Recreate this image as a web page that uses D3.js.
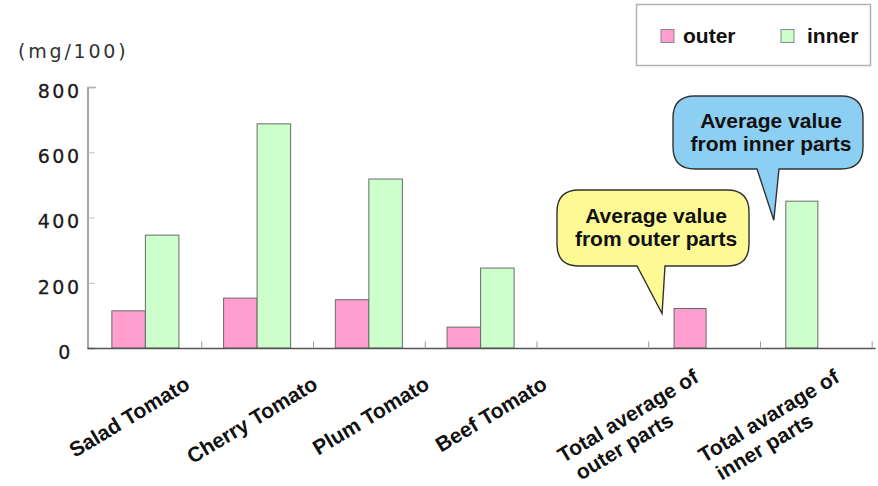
<!DOCTYPE html>
<html>
<head>
<meta charset="utf-8">
<script src="https://cdn.jsdelivr.net/npm/d3@7"></script>
<style>
  body { margin: 0; background: #fff; }
  svg { display: block; }
</style>
</head>
<body>
<svg id="chart" width="878" height="486"></svg>
<script>
// Categories along the x axis (the blank one leaves an empty slot before the averages)
const categories = [
  "Salad Tomato",
  "Cherry Tomato",
  "Plum Tomato",
  "Beef Tomato",
  "",
  "Total average of\nouter parts",
  "Total avarage of\ninner parts"
];
// mg per 100 g, outer and inner parts of each tomato
const outerValues = [114, 153, 148, 64, null, 121, null];
const innerValues = [346, 687, 518, 245, null, null, 450];
const seriesNames = ["outer", "inner"];
const yTicks = [0, 200, 400, 600, 800];
const unitLabel = "(mg/100)";
const calloutTexts = [
  ["Average value", "from outer parts"],
  ["Average value", "from inner parts"]
];

// ---- layout & styling ----
const W = 878, H = 486;
const svg = d3.select("#chart");
svg.append("rect").attr("width", W).attr("height", H).attr("fill", "#fff");

const colors = { outer: "#ff9fcf", inner: "#ccffcc" };
const boldFont = "'Liberation Sans', Arial, sans-serif";
const tickFont = "'DejaVu Sans', sans-serif";

const plotLeft = 89.5, plotRight = 871.7, y0px = 348, yTopPx = 87;

const x = d3.scaleBand().domain(d3.range(categories.length)).range([plotLeft, plotRight]);
const y = d3.scaleLinear().domain([0, 800]).range([y0px, yTopPx]);
const bw = x.bandwidth();
const barW = bw * 0.3;
const groupOff = bw * 0.2;

// y axis: ticks point inward, outer tick forms the small cap at the top;
// the zero label keeps a trailing space, as in a padded number format
const yAxis = d3.axisLeft(y).tickValues(yTicks).tickSize(-7).tickSizeOuter(-8).tickPadding(6)
  .tickFormat(d => d === 0 ? "0\u00a0" : String(d));
const gy = svg.append("g").attr("transform", "translate(87.5,0)").call(yAxis);
gy.select(".domain").attr("stroke", "#777").attr("stroke-width", 1.3);
gy.selectAll(".tick line").attr("stroke", "#bbb");
gy.selectAll(".tick text")
  .attr("font-family", tickFont).attr("font-size", 19).attr("fill", "#1a1a1a")
  .attr("stroke", "#1a1a1a").attr("stroke-width", 0.3)
  .attr("letter-spacing", 2.5).attr("dy", "0.55em");

// unit label
svg.append("text").attr("x", 18).attr("y", 58)
  .attr("font-family", tickFont).attr("font-size", 19).attr("fill", "#333")
  .attr("letter-spacing", 2.8).text(unitLabel);

// bars: present series packed from the left of each category group;
// a lone bar in a category sits slightly narrower and further in
const barData = [];
categories.forEach((c, i) => {
  const present = [];
  if (outerValues[i] != null) present.push({ s: "outer", v: outerValues[i] });
  if (innerValues[i] != null) present.push({ s: "inner", v: innerValues[i] });
  present.forEach((d, k) => barData.push({ i, k, s: d.s, v: d.v, single: present.length === 1 }));
});
const barX = d => x(d.i) + groupOff + d.k * barW + (d.single ? 3.5 : 0);
const barWidth = d => d.single ? barW - 1.5 : barW;
svg.append("g").selectAll("rect").data(barData).join("rect")
  .attr("x", barX)
  .attr("y", d => y(d.v))
  .attr("width", barWidth)
  .attr("height", d => y(0) - y(d.v))
  .attr("fill", d => colors[d.s])
  .attr("stroke", "#6a6a6a").attr("stroke-width", 1);

// x axis with short upward ticks between categories
const xb = d3.scaleLinear().domain([0, categories.length]).range([plotLeft, plotRight]);
const xAxis = d3.axisBottom(xb).tickValues(d3.range(1, categories.length + 1))
  .tickSize(-7).tickSizeOuter(0).tickFormat("");
const gx = svg.append("g").attr("transform", `translate(0,${y0px + 0.5})`).call(xAxis);
gx.select(".domain").attr("d", `M${plotLeft - 2},0H${plotRight + 4}`).attr("stroke", "#555").attr("stroke-width", 1.5);
gx.selectAll(".tick line").attr("stroke", "#999");

// rotated category labels, anchored at the end of the first line;
// a second line starts where the first one starts
const labelAngle = -31;
const labelShift = [46, 62, 62, 68, 0, -4, 25];
const labels = svg.append("g");
categories.forEach((c, i) => {
  if (!c) return;
  const lines = c.split("\n");
  const ex = x(i) + bw / 2 + labelShift[i];
  const ey = lines.length > 1 ? 381 : 388;
  const g = labels.append("g").attr("transform", `translate(${ex},${ey}) rotate(${labelAngle})`);
  const first = g.append("text").attr("x", 0).attr("y", 0)
    .attr("text-anchor", "end")
    .attr("font-family", boldFont).attr("font-weight", "bold").attr("font-size", 21)
    .attr("fill", "#111").text(lines[0]);
  const len = first.node().getComputedTextLength();
  lines.slice(1).forEach((t, j) => {
    g.append("text").attr("x", -len + 6).attr("y", (j + 1) * 24)
      .attr("text-anchor", "start")
      .attr("font-family", boldFont).attr("font-weight", "bold").attr("font-size", 21)
      .attr("fill", "#111").text(t);
  });
});

// legend
const lg = svg.append("g");
lg.append("rect").attr("x", 636.5).attr("y", 4.5).attr("width", 234).attr("height", 61)
  .attr("fill", "#fff").attr("stroke", "#b3b3b3").attr("stroke-width", 1.5);
const legendX = [661, 781];
seriesNames.forEach((s, k) => {
  lg.append("rect").attr("x", legendX[k]).attr("y", 29.5).attr("width", 13).attr("height", 13)
    .attr("fill", colors[s]).attr("stroke", "#888").attr("stroke-width", 1);
  lg.append("text").attr("x", legendX[k] + 22 + k * 4).attr("y", 43)
    .attr("font-family", boldFont).attr("font-weight", "bold").attr("font-size", 21)
    .attr("fill", "#111").text(s);
});

// speech-bubble callouts pointing at the average bars
function bubblePath(x0, y0, x1, y1, r, tl, tr, tip) {
  return `M${x0 + r},${y0}H${x1 - r}Q${x1},${y0} ${x1},${y0 + r}V${y1 - r}Q${x1},${y1} ${x1 - r},${y1}` +
    `H${tr}L${tip[0]},${tip[1]}L${tl},${y1}H${x0 + r}Q${x0},${y1} ${x0},${y1 - r}V${y0 + r}Q${x0},${y0} ${x0 + r},${y0}Z`;
}
const calloutSpec = [
  { box: [557, 190, 749, 266], fill: "#fdfa96", bar: barData.find(d => d.i === 5), tail: [637, 665], tipDy: 5 },
  { box: [673, 96, 863, 169], fill: "#8dcff3", bar: barData.find(d => d.i === 6), tail: [757, 779], tipDy: 19 }
];
calloutSpec.forEach((c, k) => {
  const [x0, y0, x1, y1] = c.box;
  const tip = [barX(c.bar) - 12, y(c.bar.v) + c.tipDy];
  svg.append("path").attr("d", bubblePath(x0, y0, x1, y1, 22, c.tail[0], c.tail[1], tip))
    .attr("fill", c.fill).attr("stroke", "#333").attr("stroke-width", 1.4);
  const cx = (x0 + x1) / 2 + 3, cy = (y0 + y1) / 2;
  calloutTexts[k].forEach((t, j) => {
    svg.append("text").attr("x", cx).attr("y", cy - 5 + j * 23)
      .attr("text-anchor", "middle")
      .attr("font-family", boldFont).attr("font-weight", "bold").attr("font-size", 21)
      .attr("fill", "#111").text(t);
  });
});
</script>
</body>
</html>
